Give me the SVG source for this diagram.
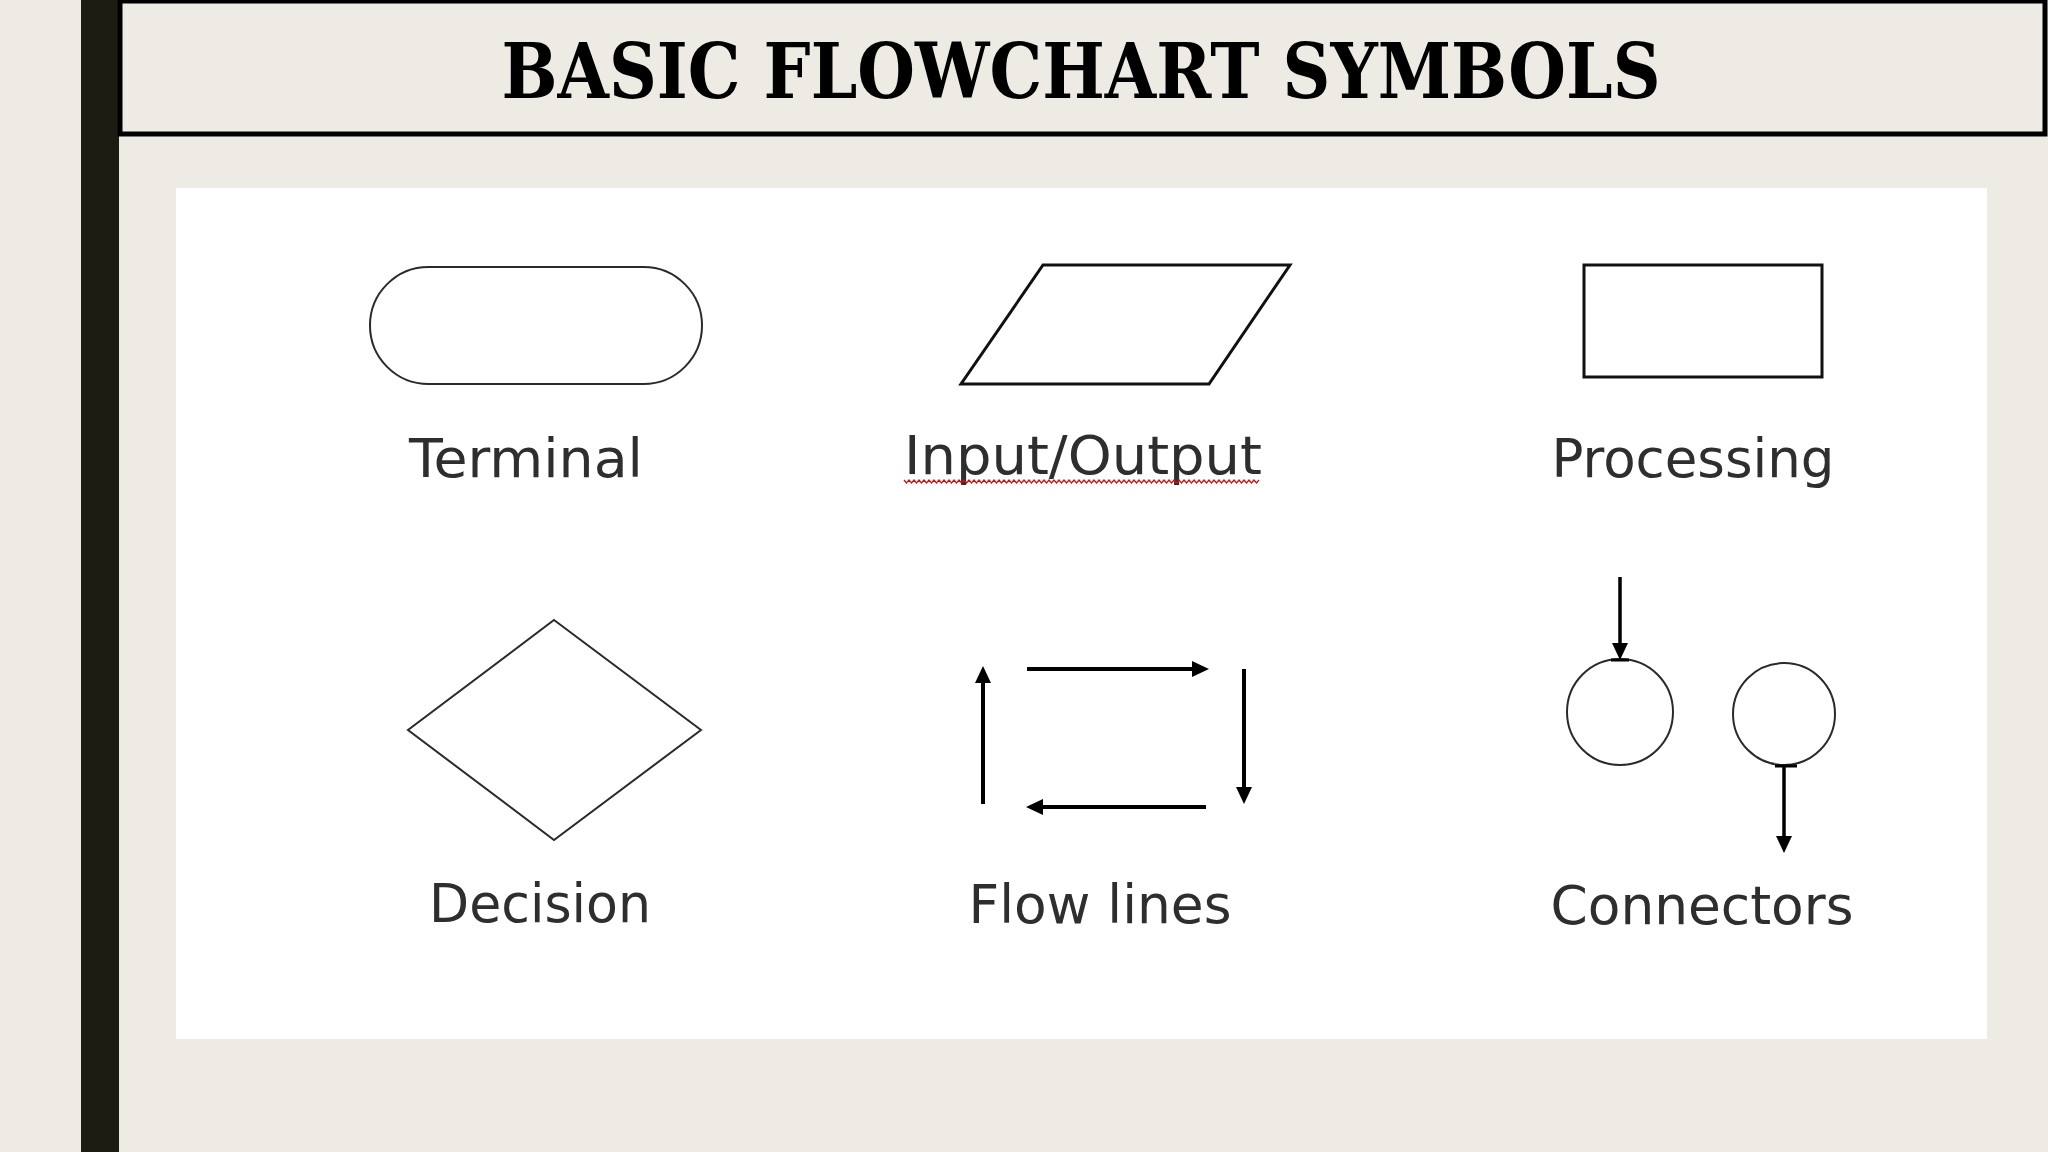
<svg xmlns="http://www.w3.org/2000/svg" width="2048" height="1152" viewBox="0 0 2048 1152">
<defs>
<style>
.lbl{font-family:"DejaVu Sans","Verdana",sans-serif;font-size:53px;fill:#2e2e2e;text-anchor:middle}
.thin{fill:#fff;stroke:#2a2a2a;stroke-width:2}
.bold{fill:#fff;stroke:#111;stroke-width:3}
.flow{stroke:#000;stroke-width:4;fill:none}
.conn{stroke:#000;stroke-width:3.5;fill:none}
</style>
<marker id="ah" viewBox="0 0 17 16" markerWidth="17" markerHeight="16" refX="2" refY="8" orient="auto" markerUnits="userSpaceOnUse">
<path d="M0,0 L17,8 L0,16 z" fill="#000"/>
</marker>
</defs>
<rect x="0" y="0" width="2048" height="1152" fill="#EEEBE4"/>
<rect x="81" y="0" width="38" height="1152" fill="#1c1c12"/>
<g id="title">
<rect x="120" y="1" width="1925" height="133" fill="none" stroke="#000" stroke-width="5"/>
<text x="1081" y="98" text-anchor="middle" font-family="'DejaVu Serif','Liberation Serif',serif" font-weight="bold" font-size="76" textLength="1159" lengthAdjust="spacingAndGlyphs" fill="#000">BASIC FLOWCHART SYMBOLS</text>
</g>
<rect id="panel" x="176" y="188" width="1811" height="851" fill="#fff"/>
<g id="terminal">
<rect class="thin" x="370" y="267" width="332" height="117" rx="58.5" ry="58.5"/>
<text class="lbl" x="526" y="477" textLength="234" lengthAdjust="spacingAndGlyphs">Terminal</text>
</g>
<g id="input-output">
<polygon class="bold" points="1043,265 1290,265 1209,384 961,384"/>
<text class="lbl" x="1083" y="474" textLength="358" lengthAdjust="spacingAndGlyphs">Input/Output</text>
<path d="M904,480 l2.5,3 2.5,-3 2.5,3 2.5,-3 2.5,3 2.5,-3 2.5,3 2.5,-3 2.5,3 2.5,-3 2.5,3 2.5,-3 2.5,3 2.5,-3 2.5,3 2.5,-3 2.5,3 2.5,-3 2.5,3 2.5,-3
 2.5,3 2.5,-3 2.5,3 2.5,-3 2.5,3 2.5,-3 2.5,3 2.5,-3 2.5,3 2.5,-3 2.5,3 2.5,-3 2.5,3 2.5,-3 2.5,3 2.5,-3 2.5,3 2.5,-3 2.5,3 2.5,-3
 2.5,3 2.5,-3 2.5,3 2.5,-3 2.5,3 2.5,-3 2.5,3 2.5,-3 2.5,3 2.5,-3 2.5,3 2.5,-3 2.5,3 2.5,-3 2.5,3 2.5,-3 2.5,3 2.5,-3 2.5,3 2.5,-3
 2.5,3 2.5,-3 2.5,3 2.5,-3 2.5,3 2.5,-3 2.5,3 2.5,-3 2.5,3 2.5,-3 2.5,3 2.5,-3 2.5,3 2.5,-3 2.5,3 2.5,-3 2.5,3 2.5,-3 2.5,3 2.5,-3
 2.5,3 2.5,-3 2.5,3 2.5,-3 2.5,3 2.5,-3 2.5,3 2.5,-3 2.5,3 2.5,-3 2.5,3 2.5,-3 2.5,3 2.5,-3 2.5,3 2.5,-3 2.5,3 2.5,-3 2.5,3 2.5,-3
 2.5,3 2.5,-3 2.5,3 2.5,-3 2.5,3 2.5,-3 2.5,3 2.5,-3 2.5,3 2.5,-3 2.5,3 2.5,-3 2.5,3 2.5,-3 2.5,3 2.5,-3 2.5,3 2.5,-3 2.5,3 2.5,-3
 2.5,3 2.5,-3 2.5,3 2.5,-3 2.5,3 2.5,-3 2.5,3 2.5,-3 2.5,3 2.5,-3 2.5,3 2.5,-3 2.5,3 2.5,-3 2.5,3 2.5,-3 2.5,3 2.5,-3 2.5,3 2.5,-3
 2.5,3 2.5,-3" fill="none" stroke="#d01010" stroke-width="1.2"/>
</g>
<g id="processing">
<rect class="bold" x="1584" y="265" width="238" height="112"/>
<text class="lbl" x="1693" y="477" textLength="283" lengthAdjust="spacingAndGlyphs">Processing</text>
</g>
<g id="decision">
<polygon class="thin" points="554,620 701,730 554,840 408,730"/>
<text class="lbl" x="540" y="922" textLength="222" lengthAdjust="spacingAndGlyphs">Decision</text>
</g>
<g id="flow-lines">
<text class="lbl" x="1100" y="923" textLength="263" lengthAdjust="spacingAndGlyphs">Flow lines</text>
</g>
<g id="connectors">
<circle class="thin" cx="1620" cy="712" r="53"/>
<circle class="thin" cx="1784" cy="714" r="51"/>
<text class="lbl" x="1702" y="924" textLength="303" lengthAdjust="spacingAndGlyphs">Connectors</text>
</g>
<g id="connector-lines">
<line class="flow" x1="983" y1="804" x2="983" y2="681" marker-end="url(#ah)"/>
<line class="flow" x1="1027" y1="669" x2="1194" y2="669" marker-end="url(#ah)"/>
<line class="flow" x1="1244" y1="669" x2="1244" y2="789" marker-end="url(#ah)"/>
<line class="flow" x1="1206" y1="807" x2="1041" y2="807" marker-end="url(#ah)"/>
<line class="conn" x1="1620" y1="577" x2="1620" y2="645" marker-end="url(#ah)"/>
<line x1="1611" y1="660" x2="1629" y2="660" stroke="#000" stroke-width="3"/>
<line x1="1775" y1="766" x2="1797" y2="766" stroke="#000" stroke-width="3"/>
<line class="conn" x1="1784" y1="766" x2="1784" y2="838" marker-end="url(#ah)"/>
</g>
</svg>
